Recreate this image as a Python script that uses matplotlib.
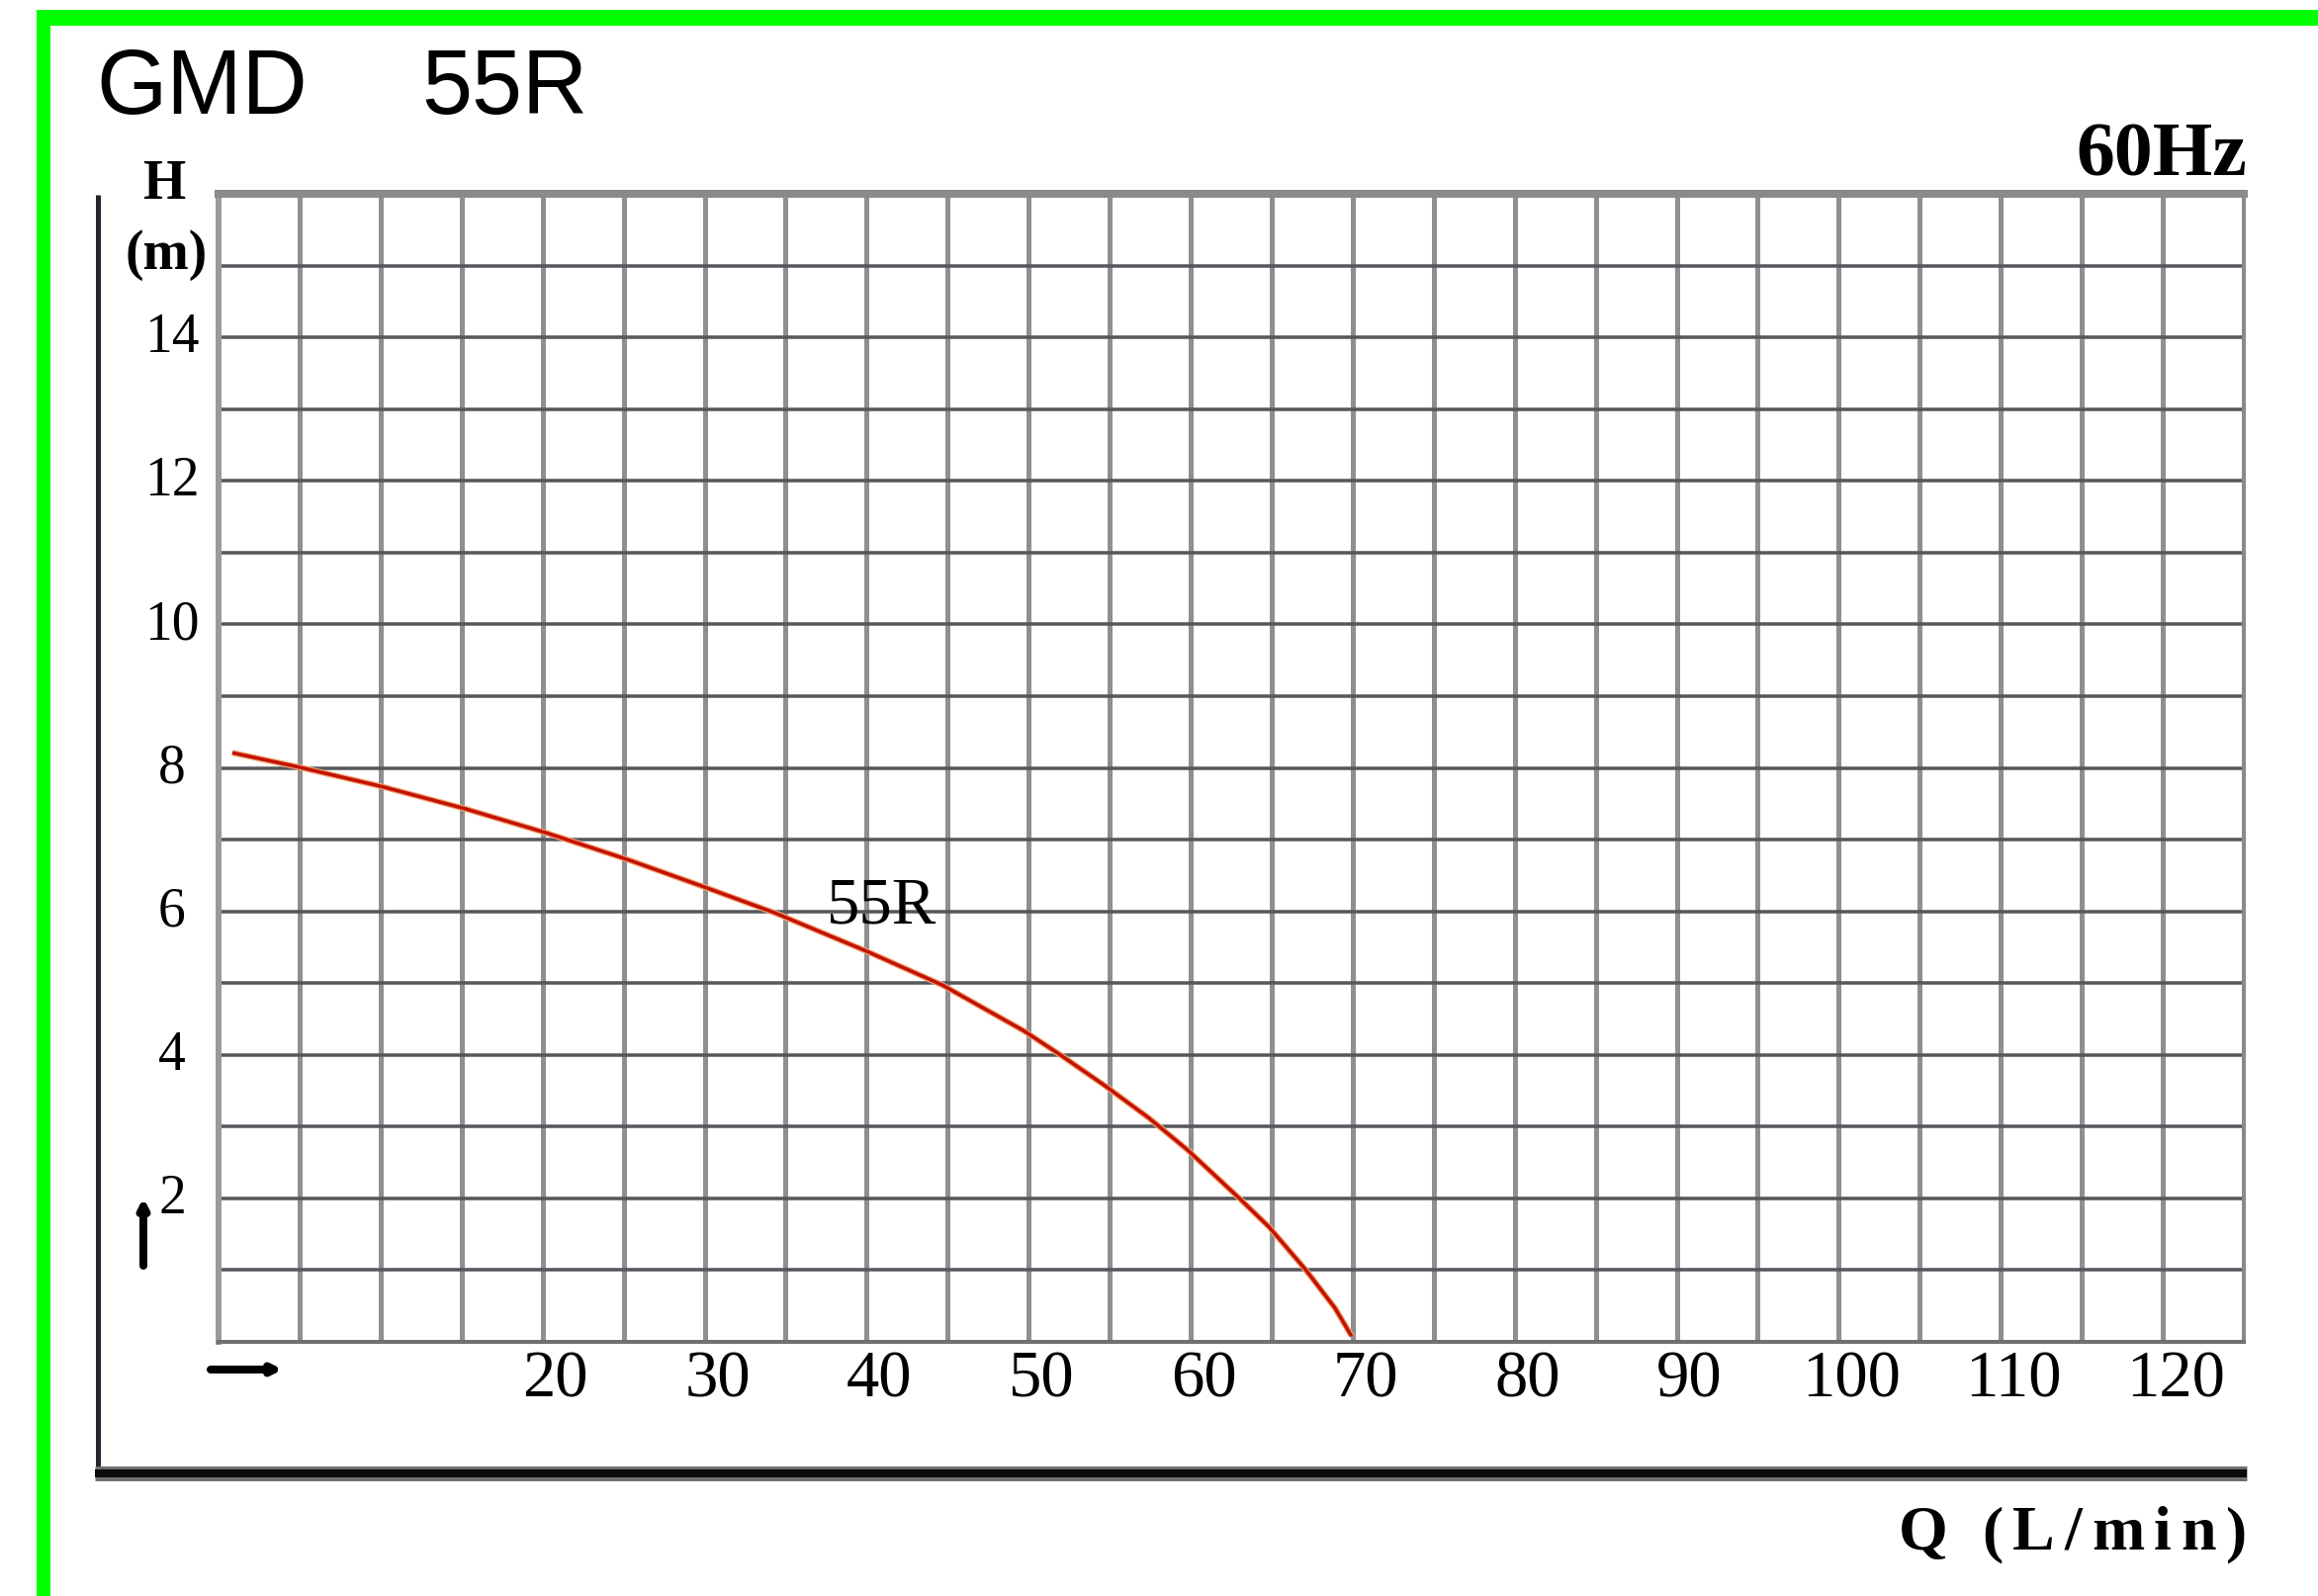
import matplotlib
matplotlib.use("Agg")
import matplotlib.pyplot as plt
import numpy as np
from matplotlib.transforms import ScaledTranslation
from matplotlib.patches import Rectangle
from matplotlib.lines import Line2D

# ---------------- data ----------------
flow_lpm = [0.85, 4.96, 10.07, 15.22, 20.28, 25.27, 29.85, 34.32, 39.94, 44.70,
            49.74, 52.02, 54.71, 57.42, 59.78, 62.96, 64.84, 67.08, 68.91, 69.93]
head_m = [8.21, 8.01, 7.74, 7.43, 7.09, 6.72, 6.35, 5.98, 5.45, 4.97,
          4.33, 3.99, 3.57, 3.12, 2.68, 2.01, 1.60, 1.01, 0.47, 0.08]

x_tick_values = [20, 30, 40, 50, 60, 70, 80, 90, 100, 110, 120]
x_tick_labels = ["20", "30", "40", "50", "60", "70", "80", "90", "100", "110", "120"]
y_tick_values = [2, 4, 6, 8, 10, 12, 14]
y_tick_labels = ["2", "4", "6", "8", "10", "12", "14"]
x_limits = [0, 125]
y_limits = [0, 16]
x_grid_step = 5
y_grid_step = 1

title_model = "GMD"
title_code = "55R"
curve_label = "55R"
curve_label_pos = [40.9, 6.08]
freq_text = "60Hz"
x_axis_title = "Q (L/min)"
y_axis_title = ["H", "(m)"]

# ---------------- figure ----------------
W, H = 2344, 1615
DPI = 100
fig = plt.figure(figsize=(W / DPI, H / DPI), dpi=DPI)
fig.patch.set_facecolor("white")

def fx(px):
    return px / W

def fy(py):
    return 1 - py / H

def pt(px):
    return px * 72.0 / DPI

SERIF = ["Liberation Serif", "DejaVu Serif"]
SANS = ["Liberation Sans", "DejaVu Sans"]

# green outer border
fig.add_artist(Rectangle((fx(37), fy(27)), fx(W) - fx(37), (27 - 11) / H,
                         transform=fig.transFigure, color="#00ff00", lw=0, zorder=5))
fig.add_artist(Rectangle((fx(37), 0), fx(51) - fx(37), fy(11),
                         transform=fig.transFigure, color="#00ff00", lw=0, zorder=5))

# plot axes
L, R, T, B = 221, 2269, 197, 1358
ax = fig.add_axes([fx(L), fy(B), fx(R) - fx(L), (B - T) / H])
ax.set_xlim(*x_limits)
ax.set_ylim(*y_limits)

ax.set_xticks(x_tick_values)
ax.set_xticklabels(x_tick_labels, fontsize=48, family=SERIF)
ax.set_xticks(np.arange(x_limits[0], x_limits[1] + 0.1, x_grid_step), minor=True)
ax.set_yticks(y_tick_values)
ax.set_yticklabels(y_tick_labels, fontsize=40, family=SERIF)
ax.set_yticks(np.arange(y_limits[0], y_limits[1] + 0.1, y_grid_step), minor=True)
ax.tick_params(which="both", length=0)
ax.tick_params(axis="x", pad=pt(8))
ax.tick_params(axis="y", pad=pt(47))
for lab in ax.get_yticklabels():
    lab.set_horizontalalignment("center")
    lab.set_verticalalignment("center")
offset = ScaledTranslation(13 / DPI, 0, fig.dpi_scale_trans)
for lab in ax.get_xticklabels():
    lab.set_transform(lab.get_transform() + offset)

ax.grid(which="both", axis="x", color="#8f8f8f", lw=pt(5))
ax.grid(which="both", axis="y", color="#55575d", lw=pt(3.5))
ax.set_axisbelow(True)

for side, col, w in [("left", "#9a9a9a", 6), ("top", "#8a8a8a", 8),
                     ("right", "#8a8a8a", 4), ("bottom", "#707070", 4)]:
    ax.spines[side].set_color(col)
    ax.spines[side].set_linewidth(pt(w))

# pump curve
ax.plot(flow_lpm, head_m, color="#f2a070", lw=pt(6), solid_capstyle="butt",
        solid_joinstyle="round", zorder=3)
ax.plot(flow_lpm, head_m, color="#c21200", lw=pt(3.5), solid_capstyle="butt",
        solid_joinstyle="round", zorder=4)
ax.text(curve_label_pos[0], curve_label_pos[1], curve_label, fontsize=48, family=SERIF,
        ha="center", va="center", zorder=5)

# outer dark frame (left line + thick bottom rule)
fig.add_artist(Line2D([fx(99), fx(99)], [fy(198), fy(1492)], transform=fig.transFigure,
                      color="#23262d", lw=pt(5), solid_capstyle="butt"))
fig.add_artist(Line2D([fx(96), fx(2272)], [fy(1491), fy(1491)], transform=fig.transFigure,
                      color="#707070", lw=pt(15), solid_capstyle="butt"))
fig.add_artist(Line2D([fx(96), fx(2272)], [fy(1491), fy(1491)], transform=fig.transFigure,
                      color="#0a0a0a", lw=pt(8), solid_capstyle="butt"))

# titles
fig.text(fx(97), fy(115), title_model, fontsize=66, family=SANS, ha="left", va="baseline")
fig.text(fx(426), fy(115), title_code, fontsize=66, family=SANS, ha="left", va="baseline")
fig.text(fx(2272), fy(177), freq_text, fontsize=56, family=SERIF, fontweight="bold",
         ha="right", va="baseline")
fig.text(fx(167), fy(187), y_axis_title[0], fontsize=40, family=SERIF, fontweight="bold",
         ha="center", va="center")
fig.text(fx(168), fy(258), y_axis_title[1], fontsize=40, family=SERIF, fontweight="bold",
         ha="center", va="center")

# x-axis title with letter tracking
renderer = fig.canvas.get_renderer()
chars = []
for ch in x_axis_title:
    t = fig.text(0, fy(1567), ch, fontsize=46, family=SERIF, fontweight="bold",
                 ha="left", va="baseline")
    chars.append(t)
widths = [t.get_window_extent(renderer).width if t.get_text().strip() else 15 for t in chars]
target_w = 2272 - 1920
gap = (target_w - sum(widths)) / (len(chars) - 1)
xpos = 1920
for t, w in zip(chars, widths):
    t.set_x(fx(xpos))
    xpos += w + gap

# small axis arrows
ax.annotate("", xy=(145, H - 1212), xytext=(145, H - 1281), xycoords="figure pixels",
            textcoords="figure pixels",
            arrowprops=dict(arrowstyle="-|>,head_length=0.5,head_width=0.25", lw=pt(8),
                            color="black", shrinkA=0, shrinkB=0))
ax.annotate("", xy=(286, H - 1386), xytext=(213, H - 1386), xycoords="figure pixels",
            textcoords="figure pixels",
            arrowprops=dict(arrowstyle="-|>,head_length=0.5,head_width=0.25", lw=pt(8),
                            color="black", shrinkA=0, shrinkB=0))

fig.savefig("out.png", dpi=DPI, facecolor="white")
